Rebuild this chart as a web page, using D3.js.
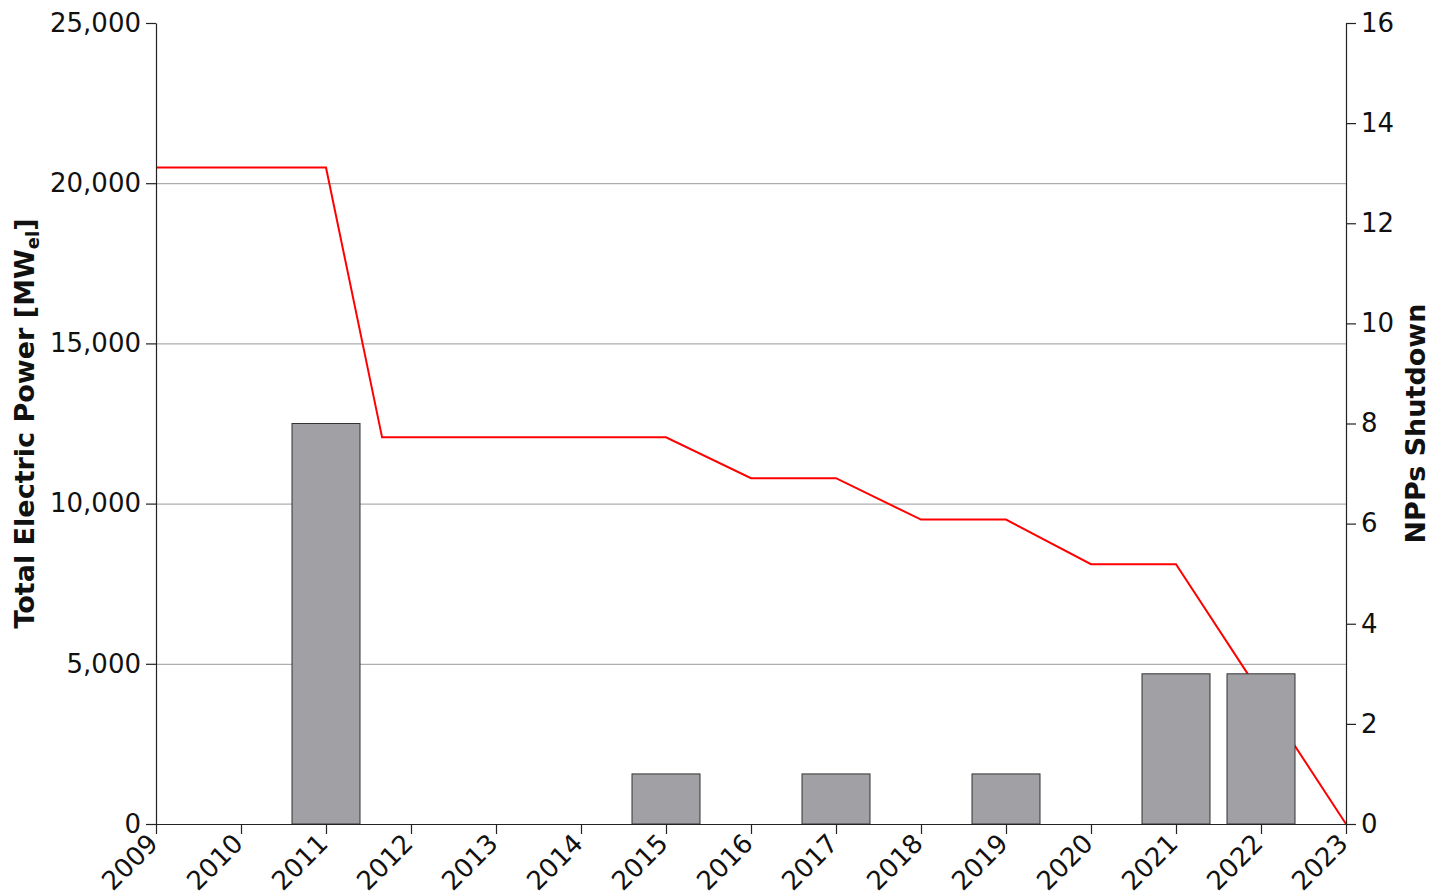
<!DOCTYPE html>
<html>
<head>
<meta charset="utf-8">
<script src="https://cdn.jsdelivr.net/npm/d3@7"></script>
<style>
  html, body { margin: 0; padding: 0; background: #fff; }
  svg { display: block; font-family: "DejaVu Sans", sans-serif; }
</style>
</head>
<body>
<svg id="chart" width="1433" height="896"></svg>
<script>
// ---- data ----
const barYears = [2011, 2015, 2017, 2019, 2021, 2022];
const barCounts = [8, 1, 1, 1, 3, 3];
const lineYears = [2009, 2011, 2011.66, 2015, 2016, 2017, 2018, 2019, 2020, 2021, 2022, 2023];
const linePower = [20490, 20490, 12068, 12068, 10793, 10793, 9500, 9500, 8110, 8110, 4055, 0];
const xTicks = [2009, 2010, 2011, 2012, 2013, 2014, 2015, 2016, 2017, 2018, 2019, 2020, 2021, 2022, 2023];
const leftTicks = [0, 5000, 10000, 15000, 20000, 25000];
const rightTicks = [0, 2, 4, 6, 8, 10, 12, 14, 16];
const gridValues = [5000, 10000, 15000, 20000];

// ---- layout ----
const svg = d3.select("#chart");
const L = 156, R = 1346, T = 23, B = 824;

const x = d3.scaleLinear().domain([2009, 2023]).range([L, R]);
const yL = d3.scaleLinear().domain([0, 25000]).range([B, T]);
const yR = d3.scaleLinear().domain([0, 16]).range([B, T]);

// gridlines
svg.append("g").selectAll("line").data(gridValues).join("line")
  .attr("x1", L).attr("x2", R)
  .attr("y1", d => yL(d) + 0.5).attr("y2", d => yL(d) + 0.5)
  .attr("stroke", "#9a9a9a").attr("stroke-width", 1);

// red line
const lineData = lineYears.map((yr, i) => [yr, linePower[i]]);
svg.append("path")
  .datum(lineData)
  .attr("fill", "none")
  .attr("stroke", "#ff0000")
  .attr("stroke-width", 2)
  .attr("stroke-linejoin", "miter")
  .attr("d", d3.line().x(d => x(d[0])).y(d => yL(d[1])));

// bars
const bw = 0.8 * (x(1) - x(0));
svg.append("g").selectAll("rect").data(barYears.map((yr, i) => [yr, barCounts[i]])).join("rect")
  .attr("x", d => x(d[0]) - bw / 2)
  .attr("y", d => yR(d[1]))
  .attr("width", bw)
  .attr("height", d => B - yR(d[1]))
  .attr("fill", "#a1a0a5")
  .attr("stroke", "#333333")
  .attr("stroke-width", 1);

// axes
const fmt = d3.format(",");
const tickFont = "26px";

const gx = svg.append("g").attr("transform", `translate(0,${B})`)
  .call(d3.axisBottom(x).tickValues(xTicks).tickFormat(d3.format("d")).tickSize(10).tickSizeOuter(0));
gx.selectAll("text")
  .attr("font-size", tickFont)
  .attr("font-family", "DejaVu Sans")
  .attr("fill", "#111")
  .attr("text-anchor", "end")
  .attr("dy", "0.1em")
  .attr("transform", "translate(-8,10) rotate(-45)");

const gl = svg.append("g").attr("transform", `translate(${L},0)`)
  .call(d3.axisLeft(yL).tickValues(leftTicks).tickFormat(fmt).tickSize(10).tickSizeOuter(0));
gl.selectAll("text").attr("font-size", tickFont).attr("font-family", "DejaVu Sans").attr("fill", "#111").attr("dx", "-2");

const gr = svg.append("g").attr("transform", `translate(${R},0)`)
  .call(d3.axisRight(yR).tickValues(rightTicks).tickFormat(d3.format("d")).tickSize(10).tickSizeOuter(0));
gr.selectAll("text").attr("font-size", tickFont).attr("font-family", "DejaVu Sans").attr("fill", "#111").attr("dx", "2");

svg.selectAll(".domain").attr("stroke", "#222").attr("stroke-width", 1.2);
svg.selectAll(".tick line").attr("stroke", "#222").attr("stroke-width", 1.2);

// axis labels
const ll = svg.append("text")
  .attr("transform", `translate(34,${(T + B) / 2 + 0}) rotate(-90)`)
  .attr("text-anchor", "middle")
  .attr("font-size", "27px")
  .attr("font-weight", "bold")
  .attr("fill", "#111");
ll.append("tspan").text("Total Electric Power [MW");
ll.append("tspan").attr("font-size", "18px").attr("dy", "5").text("el");
ll.append("tspan").attr("dy", "-5").text("]");

svg.append("text")
  .attr("transform", `translate(1425,${(T + B) / 2}) rotate(-90)`)
  .attr("text-anchor", "middle")
  .attr("font-size", "27px")
  .attr("font-weight", "bold")
  .attr("fill", "#111")
  .text("NPPs Shutdown");
</script>
</body>
</html>
